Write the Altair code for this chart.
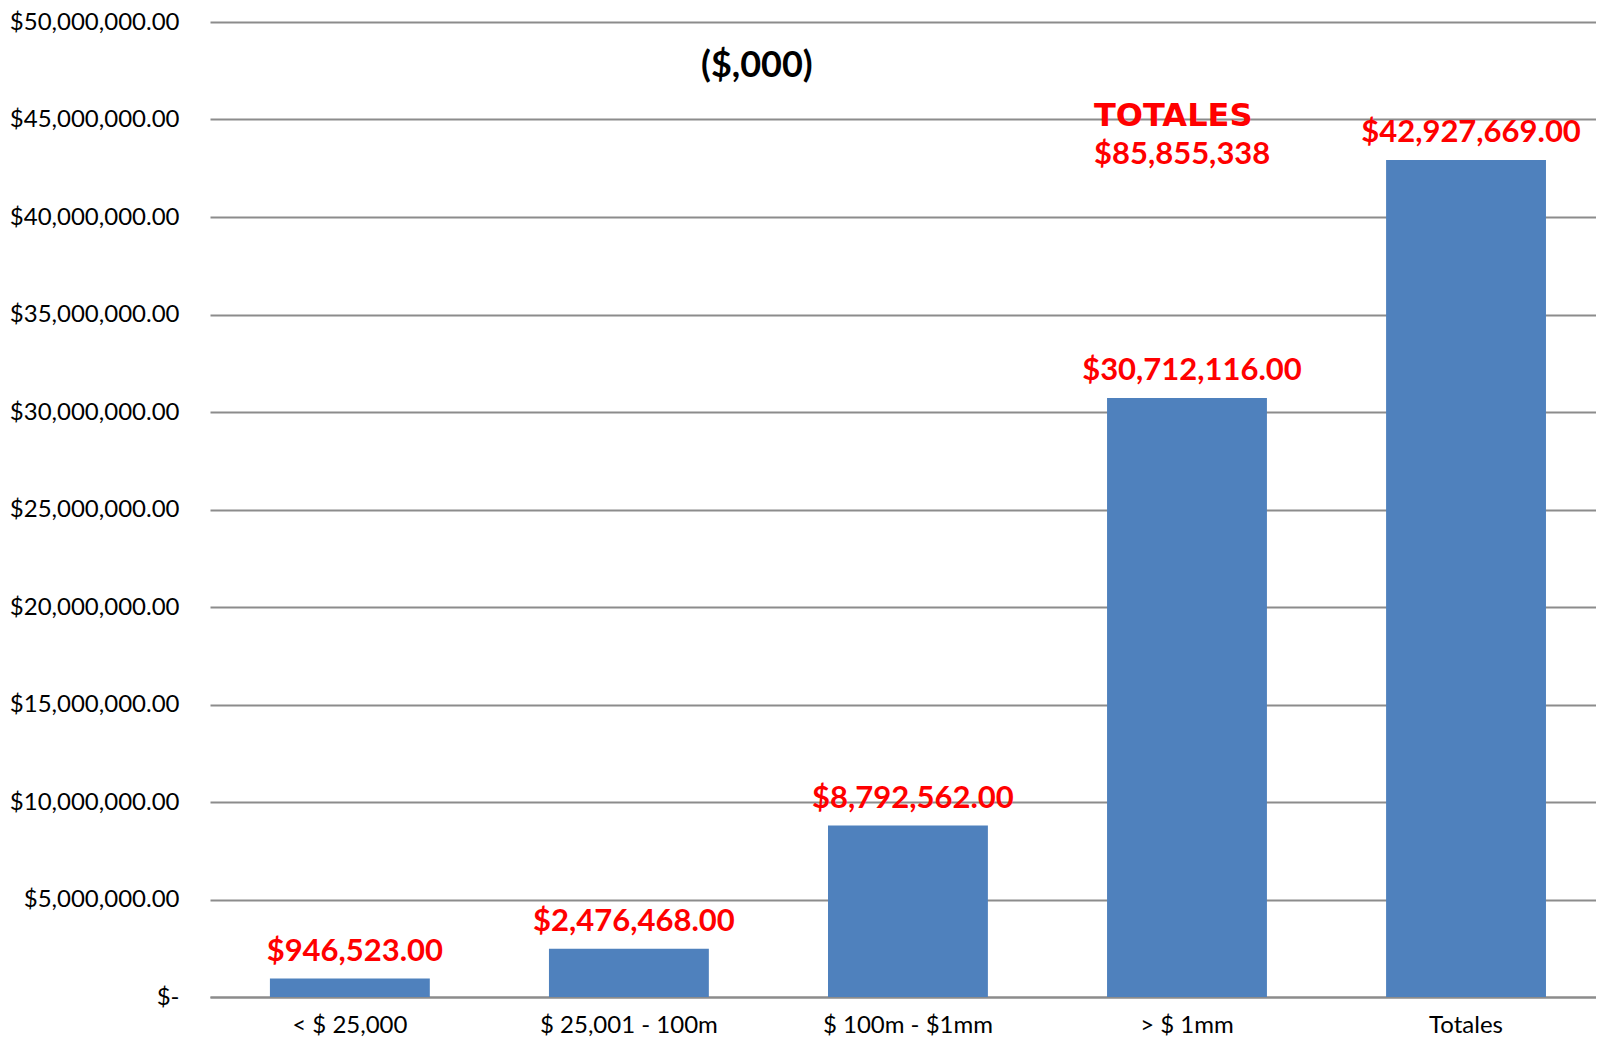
import altair as alt
import pandas as pd

categories = ["< $ 25,000", "$ 25,001 - 100m", "$ 100m - $1mm", "> $ 1mm", "Totales"]
values = [946523, 2476468, 8792562, 30712116, 42927669]
y_ticks = [0, 5000000, 10000000, 15000000, 20000000, 25000000, 30000000, 35000000, 40000000, 45000000, 50000000]
title_text = "($,000)"
title_cat = "$ 25,001 - 100m"
title_y = 47750000
total_head = "TOTALES"
total_value = "$85,855,338"
total_cat = "> $ 1mm"
total_head_y = 45200000
total_value_y = 43200000

df = pd.DataFrame({"cat": categories, "value": values})
ann0 = pd.DataFrame({"cat": [title_cat], "y": [title_y], "t": [title_text]})
ann1 = pd.DataFrame({"cat": [total_cat], "y": [total_head_y], "t": [total_head]})
ann2 = pd.DataFrame({"cat": [total_cat], "y": [total_value_y], "t": [total_value]})

xscale = alt.Scale(domain=categories, paddingInner=0.427, paddingOuter=0.197, align=0.545)
yscale = alt.Scale(domain=[0, 50000000], nice=False)

x = alt.X("cat:N", sort=categories, scale=xscale,
          axis=alt.Axis(title=None, labelAngle=0, labelFont="Lato", labelFontSize=24,
                        labelColor="black", labelPadding=16, ticks=False, domain=True,
                        domainColor="#8c8c8c", domainWidth=2, grid=False))
y = alt.Y("value:Q", scale=yscale,
          axis=alt.Axis(title=None, values=y_ticks,
                        labelExpr="datum.value == 0 ? '$-\u00a0\u00a0\u00a0' : format(datum.value, '$,.2f')",
                        labelFont="Lato", labelFontSize=24, labelColor="black", labelPadding=31,
                        ticks=False, domain=False, grid=True, gridColor="#8c8c8c", gridWidth=2))

bars = alt.Chart(df).mark_bar(color="#4F81BD").encode(x=x, y=y)

labels = alt.Chart(df).mark_text(color="#FF0000", font="Lato", fontWeight="bold", fontSize=31,
                                 dy=-27, dx=5, baseline="middle").encode(
    x=alt.X("cat:N", sort=categories, scale=xscale),
    y=alt.Y("value:Q", scale=yscale),
    text=alt.Text("value:Q", format="$,.2f"))

ttl = alt.Chart(ann0).mark_text(color="black", font="Lato", fontWeight="bold", fontSize=36,
                                dx=128, baseline="middle").encode(
    x=alt.X("cat:N", sort=categories, scale=xscale),
    y=alt.Y("y:Q", scale=yscale),
    text="t:N")

head = alt.Chart(ann1).mark_text(color="#FF0000", font="DejaVu Sans", fontWeight="bold", fontSize=32,
                                 align="left", dx=-93, baseline="middle").encode(
    x=alt.X("cat:N", sort=categories, scale=xscale),
    y=alt.Y("y:Q", scale=yscale),
    text="t:N")

tot = alt.Chart(ann2).mark_text(color="#FF0000", font="Lato", fontWeight="bold", fontSize=31,
                                align="left", dx=-93, baseline="middle").encode(
    x=alt.X("cat:N", sort=categories, scale=xscale),
    y=alt.Y("y:Q", scale=yscale),
    text="t:N")

chart = alt.layer(bars, labels, ttl, head, tot).properties(
    width=1386, height=975,
    autosize=alt.AutoSizeParams(type="none"),
    padding={"left": 202, "top": 14, "right": 0, "bottom": 41},
).configure_view(stroke=None)

chart.save("out.html", embed_options={"renderer": "svg", "actions": False})
